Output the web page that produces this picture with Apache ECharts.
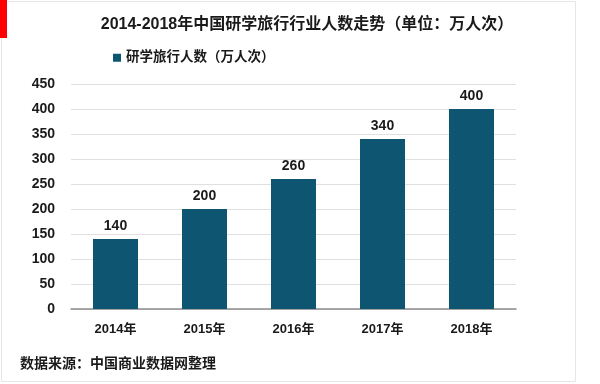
<!DOCTYPE html>
<html><head><meta charset="utf-8">
<script src="https://cdn.jsdelivr.net/npm/echarts@6/dist/echarts.min.js"></script>
<style>html,body{margin:0;padding:0;background:#fff}#c{width:600px;height:384px}</style>
</head><body><div id="c"></div>
<script>
const categories = ['2014年','2015年','2016年','2017年','2018年'];
const values = [140, 200, 260, 340, 400];
const seriesName = '研学旅行人数（万人次）';
const titleText = '2014-2018年中国研学旅行行业人数走势（单位：万人次）';
const sourceText = '数据来源：中国商业数据网整理';
const FF = '"Liberation Sans", Arial, "Noto Sans CJK SC", sans-serif';
const chart = echarts.init(document.getElementById('c'));
chart.setOption({
  animation: false,
  textStyle: {fontFamily: FF},
  title: {text: titleText, left: 302, textAlign: 'center', top: 12,
    textStyle: {fontSize: 16, fontWeight: 'bold', color: '#1a1a1a', fontFamily: FF}},
  legend: {data: [seriesName], left: 108, top: 46, icon: 'rect', itemWidth: 8, itemHeight: 8, itemGap: 4,
    textStyle: {fontSize: 13.5, fontWeight: 'bold', color: '#1a1a1a', fontFamily: FF}},
  grid: {left: 71, right: 84, top: 84, bottom: 75},
  xAxis: {type: 'category', data: categories,
    axisLine: {lineStyle: {color: '#8c8c8c', width: 1.5}}, axisTick: {show: false},
    axisLabel: {fontSize: 13, fontWeight: 'bold', color: '#1a1a1a', margin: 14, fontFamily: FF}},
  yAxis: {type: 'value', min: 0, max: 450, interval: 50,
    axisLine: {show: false}, axisTick: {show: false},
    splitLine: {lineStyle: {color: '#e0e0e0'}},
    axisLabel: {fontSize: 14, fontWeight: 'bold', color: '#1a1a1a', margin: 16, fontFamily: FF}},
  series: [{name: seriesName, type: 'bar', data: values, barWidth: 45,
    itemStyle: {color: '#0D5570'},
    label: {show: true, position: 'top', fontSize: 14, fontWeight: 'bold', color: '#1a1a1a', distance: 6, fontFamily: FF}}],
  graphic: [
    {type: 'rect', shape: {x: 1.5, y: 1.5, width: 574, height: 380}, style: {fill: 'none', stroke: '#e6e6e6', lineWidth: 1}, z: -1},
    {type: 'rect', shape: {x: 0, y: 0, width: 7, height: 38}, style: {fill: '#ff0000'}},
    {type: 'text', left: 20, top: 357, style: {text: sourceText, fontSize: 14, fontWeight: 'bold', fill: '#1a1a1a', fontFamily: FF}}
  ]
});
</script></body></html>
